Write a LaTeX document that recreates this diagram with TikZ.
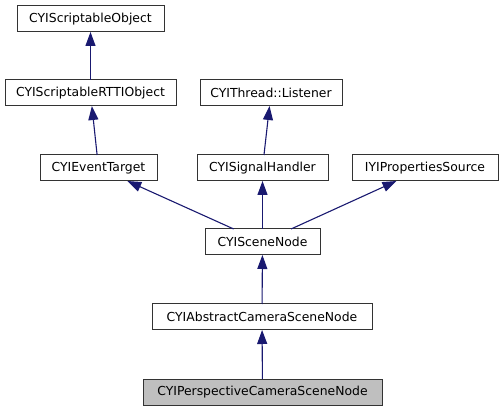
\documentclass[tikz,border=0pt]{standalone}
\usepackage{fontspec}
\setmainfont{DejaVu Sans}
\usetikzlibrary{arrows.meta}
\definecolor{edgeblue}{RGB}{25,25,112}
\definecolor{selgray}{RGB}{191,191,191}
\tikzset{
  cls/.style={draw=black!80, line width=1pt, minimum height=26pt, inner sep=0pt, outer sep=0pt, font=\fontsize{12.4}{14}\selectfont},
  inh/.style={draw=edgeblue, line width=1.1pt, -{Triangle[length=14pt,width=10pt]}}
}
\begin{document}
\begin{tikzpicture}[x=1pt,y=-1pt]
        \useasboundingbox (0,0) rectangle (503,411);
        %classes
        \node[cls, minimum width=147pt] (sobj) at (90.5,19) {CYIScriptableObject};
        \node[cls, minimum width=171pt] (rtti) at (90.5,93) {CYIScriptableRTTIObject};
        \node[cls, minimum width=142pt] (listener) at (271,93) {CYIThread::Listener};
        \node[cls, minimum width=117pt] (evt) at (98.5,168) {CYIEventTarget};
        \node[cls, minimum width=131pt] (sig) at (262.5,168) {CYISignalHandler};
        \node[cls, minimum width=146pt] (props) at (425,168) {IYIPropertiesSource};
        \node[cls, minimum width=115pt] (scene) at (262.5,242) {CYISceneNode};
        \node[cls, minimum width=220pt] (abscam) at (262,317) {CYIAbstractCameraSceneNode};
        \node[cls, minimum width=239pt, fill=selgray] (perscam) at (262.5,392) {CYIPerspectiveCameraSceneNode};
        %inheritance
        \draw[inh] (rtti) -- (sobj);
        \draw[inh] (evt) -- (rtti);
        \draw[inh] (sig) -- (listener);
        \draw[inh] (scene) -- (evt);
        \draw[inh] (scene) -- (sig);
        \draw[inh] (scene) -- (props);
        \draw[inh] (abscam) -- (scene);
        \draw[inh] (perscam) -- (abscam);
        \end{tikzpicture}
\end{document}
